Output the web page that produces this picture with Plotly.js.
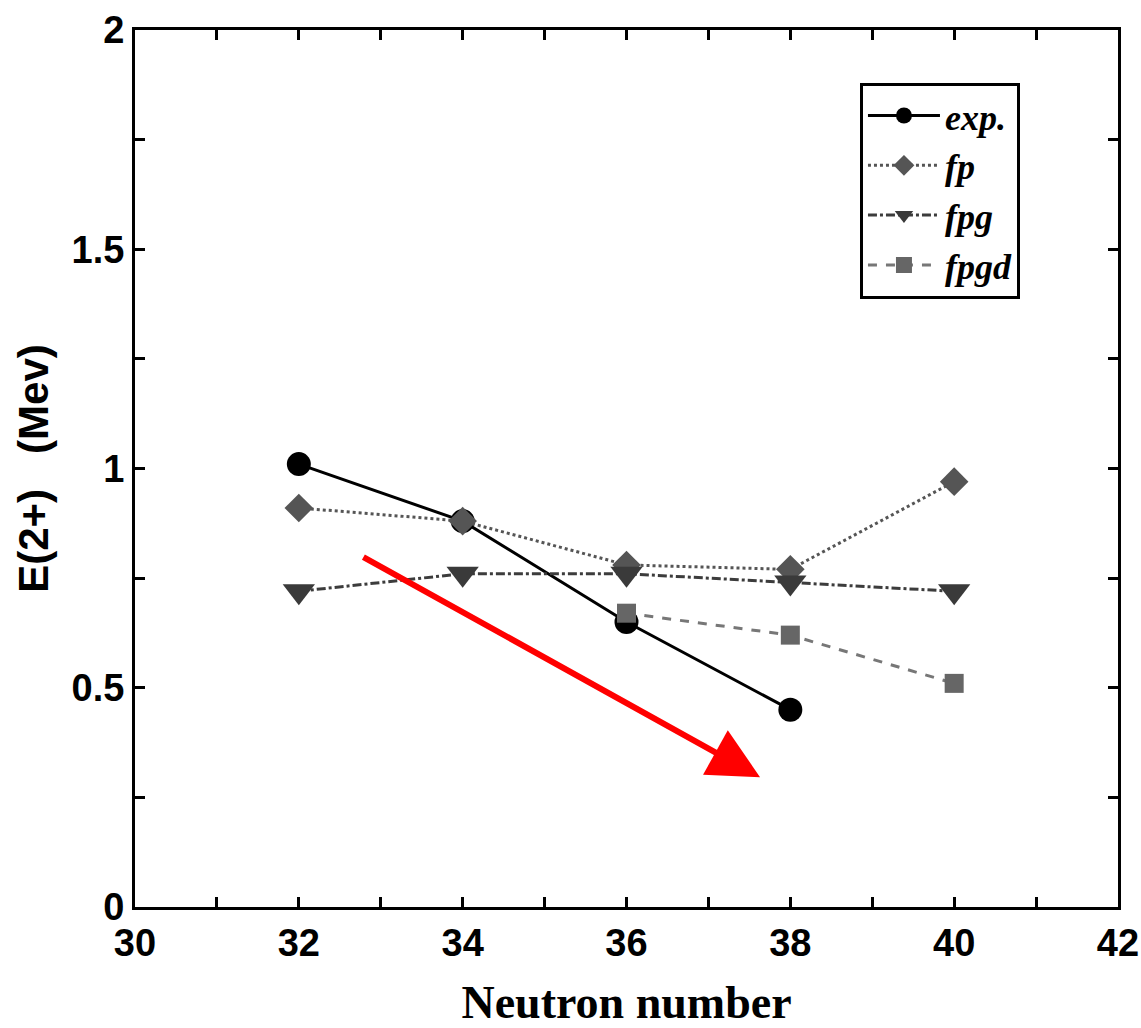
<!DOCTYPE html>
<html>
<head>
<meta charset="utf-8">
<script src="https://cdn.plot.ly/plotly-3.0.1.min.js"></script>
<style>html,body{margin:0;padding:0;background:#fff;}#chart{width:1141px;height:1028px;}</style>
</head>
<body>
<div id="chart"></div>
<script>
// Data
const neutronExp = [32, 34, 36, 38];
const expValues = [1.01, 0.88, 0.65, 0.45];
const neutronFp = [32, 34, 36, 38, 40];
const fpValues = [0.91, 0.88, 0.78, 0.77, 0.97];
const neutronFpg = [32, 34, 36, 38, 40];
const fpgValues = [0.72, 0.76, 0.76, 0.74, 0.72];
const neutronFpgd = [36, 38, 40];
const fpgdValues = [0.67, 0.62, 0.51];
const seriesNames = ['exp.', 'fp', 'fpg', 'fpgd'];
const xTickVals = [30, 31, 32, 33, 34, 35, 36, 37, 38, 39, 40, 41, 42];
const xTickText = ['30', '', '32', '', '34', '', '36', '', '38', '', '40', '', '42'];
const yTickVals = [0, 0.25, 0.5, 0.75, 1, 1.25, 1.5, 1.75, 2];
const yTickText = ['0', '', '0.5', '', '1', '', '1.5', '', '2'];
const arrowStart = [32.77, 0.80];
const arrowEnd = [37.63, 0.296];

const traces = [
  {x: neutronExp, y: expValues, name: seriesNames[0], mode: 'lines+markers',
   line: {color: '#000', width: 3},
   marker: {symbol: 'circle', size: 24, color: '#000'}},
  {x: neutronFp, y: fpValues, name: seriesNames[1], mode: 'lines+markers',
   line: {color: '#555', width: 3, dash: 'dot'},
   marker: {symbol: 'diamond', size: 22, color: '#555'}},
  {x: neutronFpg, y: fpgValues, name: seriesNames[2], mode: 'lines+markers',
   line: {color: '#3c3c3c', width: 3, dash: 'dashdot'},
   marker: {symbol: 'triangle-down', size: 28, color: '#3a3a3a'}},
  {x: neutronFpgd, y: fpgdValues, name: seriesNames[3], mode: 'lines+markers',
   line: {color: '#777', width: 3, dash: 'dash'},
   marker: {symbol: 'square', size: 19, color: '#666'}}
];

const axisCommon = {
  showline: true, linewidth: 3, linecolor: '#000', mirror: 'ticks',
  ticks: 'inside', ticklen: 10, tickwidth: 3, tickcolor: '#000',
  showgrid: false, zeroline: false,
  tickfont: {family: 'Liberation Sans, Arial', size: 38, color: '#000', weight: 'bold'}
};

const layout = {
  width: 1141, height: 1028,
  margin: {l: 135, r: 23, t: 30, b: 121},
  paper_bgcolor: '#fff', plot_bgcolor: '#fff',
  showlegend: true,
  legend: {
    x: 0.7375, y: 0.94, xanchor: 'left', yanchor: 'top',
    bgcolor: '#fff', bordercolor: '#000', borderwidth: 3,
    font: {family: 'Liberation Serif, Times New Roman', size: 36, color: '#000', weight: 'bold', style: 'italic'},
    itemwidth: 72
  },
  xaxis: Object.assign({}, axisCommon, {
    range: [30, 42], tickvals: xTickVals, ticktext: xTickText,
    title: {text: 'Neutron number', standoff: 24,
      font: {family: 'Liberation Serif, Times New Roman', size: 46, color: '#000', weight: 'bold'}}
  }),
  yaxis: Object.assign({}, axisCommon, {
    range: [0, 2], tickvals: yTickVals, ticktext: yTickText,
    title: {text: 'E(2+)\u00a0\u00a0\u00a0(Mev)', standoff: 10,
      font: {family: 'Liberation Sans, Arial', size: 42, color: '#000', weight: 'bold'}}
  }),
  annotations: [{
    x: arrowEnd[0], y: arrowEnd[1], ax: arrowStart[0], ay: arrowStart[1],
    xref: 'x', yref: 'y', axref: 'x', ayref: 'y',
    text: '', showarrow: true, arrowhead: 2, arrowsize: 1.7, arrowwidth: 6, arrowcolor: '#ff0000'
  }]
};

Plotly.newPlot('chart', traces, layout, {displayModeBar: false});
</script>
</body>
</html>
